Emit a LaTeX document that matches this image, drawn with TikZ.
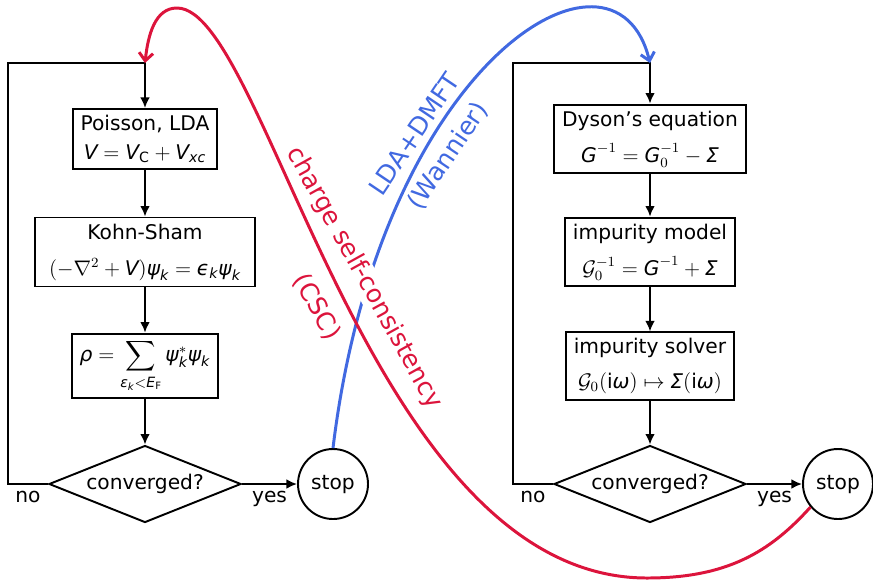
\documentclass[tikz,border=0pt]{standalone}
\usepackage{amsmath}
\usepackage{fontspec}
\setmainfont{DejaVu Sans}
\setsansfont{DejaVu Sans}
\usepackage{tikz}
\usetikzlibrary{arrows.meta,shapes.geometric}

\definecolor{cscred}{RGB}{220,20,60}
\definecolor{dmftblue}{RGB}{65,105,225}
\newcommand{\mvar}[1]{\text{\itshape #1}}

\begin{document}
\begin{tikzpicture}[
  stepbox/.style={rectangle, draw, line width=1.1pt, fill=white, align=center, inner xsep=4.5pt, inner ysep=3.5pt, font=\fontsize{11.5}{16.5}\selectfont},
  decision/.style={diamond, draw, line width=1.1pt, aspect=2.5, minimum width=3.84cm, minimum height=1.54cm, inner sep=1pt, font=\fontsize{11.5}{14}\selectfont},
  stopnode/.style={circle, draw, line width=1.1pt, minimum size=1.4cm, inner sep=0pt, font=\fontsize{11.5}{14}\selectfont},
  flow/.style={-{Latex[length=6pt,width=5.5pt]}, line width=1.1pt},
  answer/.style={font=\fontsize{11.5}{14}\selectfont},
  loopcurve/.style={line width=1.7pt, -{Straight Barb[length=4.5pt,width=8pt]}},
  looplabel/.style={font=\fontsize{14.3}{16}\selectfont, inner sep=1pt, fill=white}
]
  \useasboundingbox (0,0) rectangle (17.46,-11.62);

  % LDA cycle (left)
  \node[stepbox] (poisson) at (2.9,-2.78) {Poisson, LDA\\$\mvar{V} = \mvar{V}_\text{C} + \mvar{V}_{\mvar{xc}}$};
  \node[stepbox, inner xsep=8pt] (kohn) at (2.9,-5.04) {Kohn-Sham\\[4pt]$(-\nabla^2 + \mvar{V})\mvar{ψ}_{\mvar{k}} = \mvar{ϵ}_{\mvar{k}}\mvar{ψ}_{\mvar{k}}$};
  \node[stepbox] (rho) at (2.9,-7.32) {$\displaystyle \mvar{ρ} = \sum\limits_{\mvar{ε}_{\mvar{k}}<\mvar{E}_\text{F}} \mvar{ψ}_{\mvar{k}}^*\mvar{ψ}_{\mvar{k}}$};
  \node[decision] (conv1) at (2.9,-9.68) {converged?};
  \node[stopnode] (stop1) at (6.66,-9.68) {stop};
  \coordinate (loop1) at (0.16,-1.26);
  \coordinate (top1) at (2.9,-1.26);

  % DMFT cycle (right)
  \node[stepbox] (dyson) at (13,-2.78) {Dyson’s equation\\[4pt]$\mvar{G}^{-1} = \mvar{G}_0^{-1} - \mvar{Σ}$};
  \node[stepbox] (impmodel) at (13,-5.04) {impurity model\\[4pt]$\mathcal{G}_0^{-1} = \mvar{G}^{-1} + \mvar{Σ}$};
  \node[stepbox] (impsolver) at (13,-7.32) {impurity solver\\[3pt]$\mathcal{G}_0(\text{i}\mvar{ω}) \mapsto \mvar{Σ}(\text{i}\mvar{ω})$};
  \node[decision] (conv2) at (13,-9.68) {converged?};
  \node[stopnode] (stop2) at (16.76,-9.68) {stop};
  \coordinate (loop2) at (10.26,-1.26);
  \coordinate (top2) at (13,-1.26);

  % Flow arrows
  \draw[flow] (poisson) -- (kohn);
  \draw[flow] (kohn) -- (rho);
  \draw[flow] (rho) -- (conv1);
  \draw[flow] (conv1) -- node[answer, below] {yes} (stop1);
  \draw[flow] (conv1.west) -- node[answer, below] {no} (loop1 |- conv1.west) -- (loop1) -- (top1) -- (poisson);

  \draw[flow] (dyson) -- (impmodel);
  \draw[flow] (impmodel) -- (impsolver);
  \draw[flow] (impsolver) -- (conv2);
  \draw[flow] (conv2) -- node[answer, below] {yes} (stop2);
  \draw[flow] (conv2.west) -- node[answer, below] {no} (loop2 |- conv2.west) -- (loop2) -- (top2) -- (dyson);

  % LDA+DMFT link
  \draw[loopcurve, dmftblue] (stop1.north) .. controls (7.6,-1.2) and (12.3,1.6) .. (top2);

  % Charge self-consistency link
  \coordinate (cscbottom) at (12.94,-11.56);
  \coordinate (csctop) at (3.54,-0.16);
  \draw[loopcurve, cscred] (stop2.220) .. controls (15.4,-11.04) and (14.54,-11.56) .. (cscbottom)
    .. controls (7.34,-11.56) and (5.34,-0.16) .. (csctop)
    .. controls (3.1,-0.16) and (2.96,-0.7) .. (top1);

  % Link labels
  \node[looplabel, text=dmftblue, rotate=56] (dmftlabel) at (8.28,-2.68) {LDA+DMFT};
  \node[looplabel, text=dmftblue, rotate=56] (wannierlabel) at (8.96,-3.12) {(Wannier)};
  \node[looplabel, text=cscred, rotate=-61] (csclabel) at (7.28,-5.56) {charge self-consistency};
  \node[looplabel, text=cscred, rotate=-61] (cscshort) at (6.34,-6.14) {(CSC)};
\end{tikzpicture}
\end{document}
